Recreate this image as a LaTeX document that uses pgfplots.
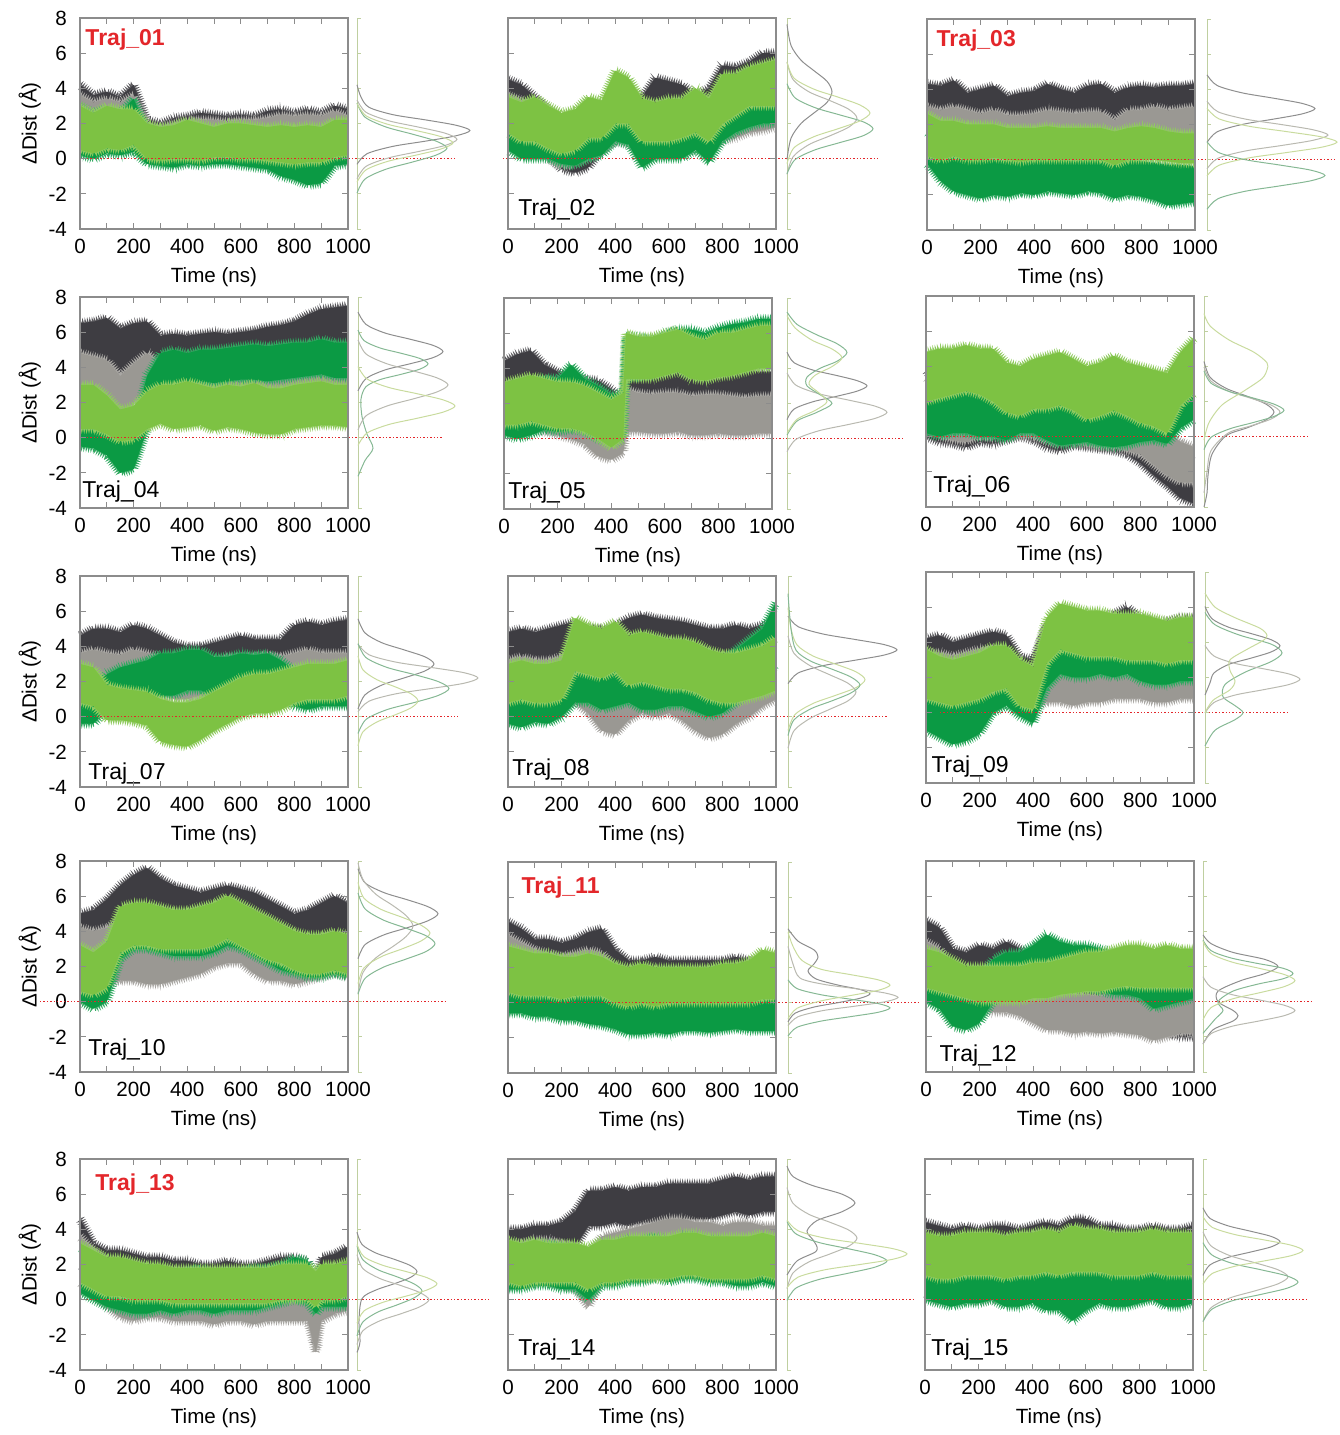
\documentclass[border=0pt]{standalone}
\usepackage{fontspec}
\setmainfont{Liberation Sans}
\usepackage{pgfplots}
\pgfplotsset{compat=1.18}
\usepackage{pgfplotstable}
\usepgfplotslibrary{fillbetween}
\usetikzlibrary{decorations.pathmorphing}
\definecolor{cK}{HTML}{3E3D42}
\definecolor{cG}{HTML}{9A9893}
\definecolor{cE}{HTML}{0B9A44}
\definecolor{cL}{HTML}{7DC243}
\definecolor{dK}{HTML}{8E8E8E}
\definecolor{dG}{HTML}{B9B9B0}
\definecolor{dE}{HTML}{86B894}
\definecolor{dL}{HTML}{C9DB9E}
\definecolor{axc}{HTML}{8C8C8C}
\definecolor{sdc}{HTML}{BFCFA0}
\definecolor{rd}{HTML}{E3262A}
\newcommand\fs{\fontsize{10.3}{12}\selectfont}
\newcommand\ft{\fontsize{11.5}{13}\selectfont}
\tikzset{noisy/.style={draw=#1!85!white, line width=0.45pt, decorate, decoration={zigzag, segment length=1.2pt, amplitude=1.5pt}}}
\newcommand\band[5]{%
 \addplot[noisy=#4,on layer=pre main,forget plot] table[x=t,y=#2]{#1};
 \addplot[noisy=#4,on layer=pre main,forget plot] table[x=t,y=#3]{#1};
 \addplot[name path=u#5,draw=none,forget plot] table[x=t,y=#2]{#1};
 \addplot[name path=d#5,draw=none,forget plot] table[x=t,y=#3]{#1};
 \addplot[fill=#4,draw=none,on layer=pre main,forget plot] fill between[of=u#5 and d#5];}
\newcommand\bands[1]{\band{#1}{Kh}{Kl}{cK}{k}\band{#1}{Gh}{Gl}{cG}{g}\band{#1}{Eh}{El}{cE}{e}\band{#1}{Lh}{Ll}{cL}{l}}
\newcommand\red[2]{\coordinate (ra) at (axis cs:#1,0); \coordinate (rb) at (axis cs:#2,0);}
\newcommand\redline{\draw[rd,densely dotted,line width=0.7pt] (ra) -- (rb);}
\tikzset{
 lab/.style={anchor=west, inner sep=0pt, font=\ft},
 labr/.style={anchor=west, inner sep=0pt, font=\ft\bfseries, text=rd}
}
\pgfplotsset{
 main/.style={scale only axis, width=134pt, height=105.5pt, xmin=0, xmax=1000, ymin=-4, ymax=8,
  axis on top, anchor=south west,
  xtick={0,200,400,600,800,1000}, xticklabels={0,200,400,600,800,1000},
  minor xtick={100,300,500,700,900},
  ytick={-4,-2,0,2,4,6,8}, yticklabels={},
  tick align=inside, major tick length=3pt, minor tick length=3pt,
  axis line style={axc, line width=0.6pt}, every tick/.style={axc, line width=0.5pt},
  ticklabel style={font=\fs, text=black},
  xticklabel style={yshift=-1.5pt}, yticklabel style={xshift=-3pt},
  xlabel={Time (ns)}, xlabel style={font=\fs, at={(axis description cs:0.5,-0.227)}, anchor=center}},
 col1/.style={yticklabels={-4,-2,0,2,4,6,8}, ylabel={ΔDist (Å)},
  ylabel style={font=\fs, at={(axis description cs:-0.187,0.5)}, anchor=center}},
 side/.style={scale only axis, width=65pt, height=105.5pt, xmin=0, xmax=1.3, ymin=-4, ymax=8,
  anchor=south west, clip=false, axis x line=none, axis y line*=left,
  y axis line style={-, sdc, line width=0.5pt}, xtick=\empty,
  ytick={-4,-2,0,2,4,6,8}, yticklabels={}, ytick style={sdc, line width=0.4pt},
  tick align=inside, major tick length=2pt,
  every axis plot/.append style={smooth, line width=0.5pt}}
}
\pgfplotstableread[row sep=\\]{
t Kh Kl Gh Gl Eh El Lh Ll\\
0 4.2 1.5 3.6 0.8 3.0 0.2 3.0 0.5\\
50 3.6 1.4 3.2 0.6 2.6 0.0 2.6 0.3\\
100 3.8 1.5 3.4 0.8 2.8 0.3 3.0 0.6\\
150 3.5 1.3 3.2 0.6 2.6 0.2 2.8 0.5\\
200 4.2 1.6 3.6 0.9 3.4 0.4 2.8 0.8\\
250 2.2 0.8 2.0 0.0 1.6 -0.3 2.0 0.0\\
300 2.0 0.6 1.8 -0.3 1.2 -0.4 1.8 -0.1\\
350 2.3 0.7 2.0 -0.2 1.4 -0.5 1.9 0.0\\
400 2.4 0.8 2.2 -0.2 1.6 -0.3 2.2 0.0\\
450 2.6 1.0 2.2 0.0 1.6 -0.4 2.0 -0.1\\
500 2.5 1.0 2.2 0.2 1.5 -0.3 1.8 0.1\\
550 2.4 1.1 2.1 0.3 1.5 -0.3 2.0 0.1\\
600 2.5 1.2 2.2 0.4 1.6 -0.4 2.0 0.0\\
650 2.4 1.2 2.2 0.3 1.5 -0.5 1.9 0.0\\
700 2.7 1.3 2.3 0.4 1.4 -0.6 1.8 -0.1\\
750 2.8 1.3 2.5 0.4 1.2 -1.0 1.9 -0.2\\
800 2.6 1.2 2.4 0.3 1.2 -1.2 1.8 -0.3\\
850 2.8 1.3 2.5 0.4 1.0 -1.5 1.9 -0.2\\
900 2.6 1.3 2.4 0.4 1.0 -1.4 1.8 -0.2\\
950 3.0 1.4 2.7 0.6 1.8 -0.4 2.2 0.1\\
1000 2.8 1.3 2.4 0.5 2.0 -0.3 2.2 0.2\\
}\TrA
\pgfplotstableread[row sep=\\]{
t Kh Kl Gh Gl Eh El Lh Ll\\
0 4.5 2.2 3.6 0.8 2.5 0.5 3.5 1.5\\
50 4.2 2.0 3.3 0.6 2.2 0.0 3.2 1.0\\
100 3.5 1.2 3.0 0.5 2.0 0.0 3.5 1.0\\
150 2.8 0.2 2.5 0.0 1.8 0.0 3.0 0.6\\
200 2.2 -0.6 2.0 -0.5 1.5 -0.3 2.6 0.3\\
250 2.0 -0.8 2.2 -0.3 1.6 -0.4 2.8 0.5\\
300 2.4 -0.5 2.5 0.0 2.0 0.0 3.5 1.2\\
350 3.0 0.5 3.0 0.5 2.2 0.2 3.3 1.2\\
400 3.4 1.0 3.5 1.0 3.2 1.0 5.0 2.0\\
450 4.0 1.5 3.2 0.8 3.0 0.8 4.6 2.0\\
500 3.5 1.2 3.0 0.5 2.0 -0.5 3.4 1.0\\
550 4.6 1.5 3.0 0.5 2.2 0.0 3.2 1.0\\
600 4.4 2.0 3.0 0.5 2.4 0.0 3.4 1.0\\
650 4.2 1.8 3.0 0.5 2.4 0.0 3.4 1.2\\
700 3.6 1.0 3.0 0.5 2.6 0.5 4.0 1.5\\
750 4.0 1.5 3.2 0.8 2.2 -0.2 3.4 1.0\\
800 5.3 2.5 3.5 1.0 3.2 1.0 4.8 2.0\\
850 5.2 2.5 3.8 1.2 3.5 1.5 4.8 2.5\\
900 5.5 3.0 4.0 1.5 3.8 1.8 5.2 3.0\\
950 6.0 3.0 4.0 1.6 4.0 2.0 5.4 3.0\\
1000 6.0 3.0 4.0 1.8 4.0 2.0 5.6 3.0\\
}\TrB
\pgfplotstableread[row sep=\\]{
t Kh Kl Gh Gl Eh El Lh Ll\\
0 4.3 2.0 3.0 0.8 1.6 -0.2 2.6 0.2\\
50 4.2 1.8 2.8 0.6 0.8 -1.2 2.2 0.0\\
100 4.5 2.0 3.0 0.7 0.2 -1.8 2.2 0.2\\
150 3.8 1.8 2.8 0.6 0.0 -2.0 2.0 0.0\\
200 4.0 1.9 2.6 0.5 0.1 -2.2 2.0 0.0\\
250 4.2 2.0 2.8 0.6 0.0 -2.0 2.0 0.1\\
300 3.6 1.8 2.5 0.4 -0.1 -2.1 1.8 0.0\\
350 3.8 1.8 2.5 0.4 0.0 -1.9 1.8 -0.1\\
400 3.9 2.0 2.6 0.5 0.0 -2.0 1.8 0.0\\
450 4.3 2.1 2.8 0.6 0.1 -1.8 1.9 0.0\\
500 4.0 2.1 2.7 0.5 0.0 -1.9 1.8 0.0\\
550 3.8 2.0 2.6 0.5 -0.1 -2.0 1.8 0.0\\
600 4.2 2.1 2.7 0.5 0.0 -1.8 1.8 0.0\\
650 4.3 2.1 2.7 0.6 0.0 -1.9 1.8 0.0\\
700 3.8 1.5 2.2 0.2 -0.2 -2.2 1.6 -0.3\\
750 4.1 2.0 2.8 0.6 0.0 -2.0 1.8 0.0\\
800 4.2 2.2 2.8 0.6 -0.1 -2.1 1.9 0.0\\
850 4.1 2.1 3.0 0.7 -0.2 -2.3 1.8 0.0\\
900 4.2 2.1 2.8 0.6 -0.3 -2.6 1.6 -0.1\\
950 4.2 2.2 2.9 0.7 -0.3 -2.5 1.5 -0.2\\
1000 4.3 2.2 3.0 0.7 -0.4 -2.4 1.5 -0.2\\
}\TrC
\pgfplotstableread[row sep=\\]{
t Kh Kl Gh Gl Eh El Lh Ll\\
0 6.5 3.8 4.8 2.5 1.6 -0.5 3.0 0.5\\
50 6.6 3.8 4.6 2.2 1.2 -0.6 3.0 0.5\\
100 6.8 4.0 4.4 1.8 1.0 -1.0 2.4 0.2\\
150 6.2 3.6 3.5 1.2 0.2 -2.0 1.6 -0.2\\
200 6.5 3.8 4.2 2.0 0.5 -1.8 1.8 -0.1\\
250 6.6 4.0 4.8 2.8 3.5 0.5 2.6 0.5\\
300 5.8 3.8 4.2 2.2 4.8 3.0 3.0 0.8\\
350 5.9 3.8 4.0 2.0 5.0 3.0 3.0 0.5\\
400 5.8 3.8 4.0 2.0 4.8 3.0 3.2 0.6\\
450 5.9 4.0 4.2 2.2 5.0 3.2 3.0 0.7\\
500 6.0 4.0 4.0 2.0 5.0 3.1 2.8 0.4\\
550 5.9 3.9 3.8 2.0 5.1 3.2 3.0 0.6\\
600 6.0 4.0 4.0 2.1 5.2 3.3 2.9 0.5\\
650 6.1 4.2 4.0 2.0 5.3 3.3 3.1 0.3\\
700 6.3 4.5 3.8 1.8 5.2 3.2 2.8 0.2\\
750 6.4 4.6 3.8 1.8 5.3 3.3 2.8 0.2\\
800 6.6 4.6 4.0 2.0 5.4 3.4 3.0 0.5\\
850 7.0 4.8 4.2 2.2 5.4 3.5 3.1 0.6\\
900 7.3 4.8 4.6 2.6 5.6 3.6 3.2 0.7\\
950 7.4 5.0 4.8 2.8 5.4 3.4 3.0 0.7\\
1000 7.5 5.0 5.0 3.0 5.4 3.4 3.0 0.6\\
}\TrD
\pgfplotstableread[row sep=\\]{
t Kh Kl Gh Gl Eh El Lh Ll\\
0 4.4 2.0 3.0 0.5 2.8 0.2 3.2 0.8\\
50 4.8 2.2 3.0 0.5 3.0 0.0 3.4 0.8\\
100 5.0 2.4 3.2 0.6 3.2 0.2 3.6 1.0\\
150 4.2 1.8 2.8 0.4 3.5 0.5 3.4 0.8\\
200 3.8 1.4 2.5 0.2 3.4 0.4 3.2 0.6\\
250 3.5 1.0 2.4 0.0 4.2 0.5 3.2 0.6\\
300 3.4 0.8 2.2 -0.3 3.4 0.4 3.0 0.4\\
350 3.3 0.5 1.5 -1.0 3.0 0.0 2.6 0.0\\
400 2.8 0.0 1.0 -1.2 2.5 -0.3 2.2 -0.5\\
445 2.2 -0.2 1.2 -0.8 2.6 0.0 2.6 0.0\\
455 3.8 1.8 2.8 0.4 5.8 3.5 6.0 3.4\\
500 3.9 1.8 2.6 0.4 5.8 3.5 5.8 3.4\\
550 3.8 1.8 2.5 0.3 5.6 3.6 5.8 3.4\\
600 4.0 1.9 2.6 0.3 6.0 3.8 6.0 3.6\\
650 4.0 2.0 2.6 0.4 6.2 4.0 6.2 3.8\\
700 3.8 1.8 2.4 0.2 6.2 3.6 5.8 3.4\\
750 3.9 1.8 2.5 0.2 6.0 3.6 5.6 3.3\\
800 4.0 1.9 2.5 0.3 6.3 3.8 6.0 3.5\\
850 4.0 2.0 2.4 0.2 6.5 4.0 6.0 3.6\\
900 3.9 1.8 2.3 0.2 6.6 4.0 6.2 3.8\\
950 3.8 1.8 2.4 0.3 6.8 4.2 6.4 4.0\\
1000 3.8 1.8 2.4 0.3 6.8 4.2 6.4 4.0\\
}\TrE
\pgfplotstableread[row sep=\\]{
t Kh Kl Gh Gl Eh El Lh Ll\\
0 3.8 0.0 3.4 0.2 2.8 0.2 4.8 2.0\\
50 2.6 -0.3 2.6 0.0 2.6 0.0 5.0 2.2\\
100 2.4 -0.4 2.4 -0.2 2.8 0.2 5.0 2.4\\
150 2.2 -0.6 2.3 -0.3 2.8 0.2 5.2 2.6\\
200 2.5 -0.3 2.5 0.0 2.6 0.0 5.0 2.4\\
250 2.4 -0.4 2.5 -0.1 2.5 0.0 5.0 2.0\\
300 2.3 -0.2 2.3 0.0 2.4 -0.2 4.2 1.4\\
350 2.6 0.0 2.6 0.0 2.8 0.2 4.0 1.2\\
400 2.6 -0.2 2.5 0.0 2.8 0.2 4.4 1.6\\
450 2.2 -0.6 2.2 -0.3 2.6 -0.2 4.6 1.6\\
500 1.8 -0.8 2.0 -0.5 2.4 -0.5 4.8 1.8\\
550 2.0 -0.5 2.0 -0.4 2.4 -0.4 4.4 1.5\\
600 2.0 -0.6 2.0 -0.5 2.2 -0.3 4.0 1.0\\
650 1.8 -0.7 1.8 -0.6 2.0 -0.5 4.2 1.2\\
700 1.6 -0.8 1.7 -0.6 1.9 -0.6 4.6 1.5\\
750 1.5 -1.0 1.6 -0.8 1.8 -0.5 4.2 1.2\\
800 1.2 -1.5 1.4 -1.0 2.0 -0.3 4.0 0.8\\
850 0.4 -2.2 1.0 -1.6 1.8 -0.2 3.8 0.6\\
900 -0.5 -2.8 0.2 -2.2 1.5 -0.4 3.6 0.2\\
950 -1.0 -3.5 -0.3 -2.6 2.6 0.5 4.8 1.8\\
1000 -1.5 -3.8 -0.6 -2.6 3.0 1.0 5.6 2.5\\
}\TrF
\pgfplotstableread[row sep=\\]{
t Kh Kl Gh Gl Eh El Lh Ll\\
0 4.6 2.8 3.6 1.6 1.8 -0.4 3.0 0.8\\
50 5.0 3.0 3.8 1.8 1.6 -0.4 2.8 0.6\\
100 5.0 2.8 3.6 1.5 2.4 0.4 1.8 -0.2\\
150 4.8 2.8 3.5 1.4 2.8 0.6 1.6 -0.2\\
200 5.2 3.2 3.8 1.8 3.0 0.8 1.5 -0.3\\
250 5.0 3.0 3.6 1.6 3.2 0.9 1.4 -0.5\\
300 4.6 2.6 3.4 1.3 3.6 1.2 1.0 -1.4\\
350 4.2 2.4 3.2 1.0 3.6 1.2 0.8 -1.6\\
400 4.0 2.2 3.0 1.0 3.8 1.5 0.8 -1.7\\
450 4.0 2.2 3.0 1.2 3.8 1.5 1.0 -1.3\\
500 4.2 2.4 3.2 1.2 3.4 1.2 1.4 -0.8\\
550 4.4 2.6 3.4 1.4 3.4 1.2 1.8 -0.4\\
600 4.6 2.8 3.4 1.4 3.6 1.4 2.2 0.0\\
650 4.4 2.8 3.4 1.5 3.5 1.2 2.4 0.2\\
700 4.4 2.8 3.5 1.5 3.6 1.4 2.4 0.2\\
750 4.4 2.8 3.4 1.4 3.2 1.0 2.6 0.4\\
800 5.2 3.4 3.6 1.8 2.6 0.6 2.8 0.8\\
850 5.4 3.6 3.8 2.0 2.4 0.4 3.0 1.0\\
900 5.2 3.5 3.6 1.9 2.6 0.6 3.0 1.0\\
950 5.4 3.6 3.6 1.8 2.8 0.6 3.0 1.0\\
1000 5.5 3.6 3.6 1.8 2.8 0.6 3.2 1.2\\
}\TrG
\pgfplotstableread[row sep=\\]{
t Kh Kl Gh Gl Eh El Lh Ll\\
0 4.8 2.8 3.2 1.0 2.2 -0.4 3.0 0.8\\
50 5.0 3.0 3.4 1.2 2.0 -0.6 3.2 1.0\\
100 4.8 2.8 3.2 1.0 2.2 -0.3 3.0 0.8\\
150 5.0 3.0 3.2 1.0 2.0 -0.4 3.0 0.8\\
200 5.2 3.2 3.4 1.2 2.4 0.0 3.2 1.0\\
250 5.4 3.2 4.0 0.8 3.0 0.8 5.6 2.6\\
300 5.0 3.0 3.6 0.2 3.2 0.8 5.2 2.4\\
350 5.0 3.0 3.2 -0.8 3.0 0.4 5.0 2.2\\
400 5.2 3.0 3.0 -1.0 3.4 0.6 5.4 2.6\\
450 5.6 3.4 3.2 -0.2 3.6 0.8 4.6 1.8\\
500 5.8 3.6 3.4 0.2 3.0 0.4 4.8 2.0\\
550 5.6 3.4 3.2 0.0 3.0 0.4 4.6 1.8\\
600 5.5 3.3 3.2 0.2 3.2 0.6 4.4 1.6\\
650 5.4 3.2 3.0 -0.2 3.2 0.6 4.4 1.6\\
700 5.2 3.0 2.8 -0.8 2.8 0.3 4.2 1.4\\
750 5.0 2.8 2.6 -1.2 3.0 0.0 3.8 1.0\\
800 5.0 2.8 2.8 -1.0 3.2 0.2 3.6 0.8\\
850 5.2 3.0 3.0 -0.4 3.8 0.8 3.6 0.8\\
900 5.0 2.8 3.2 0.0 4.4 1.4 3.8 1.0\\
950 5.2 3.0 3.4 0.6 5.0 2.0 4.0 1.2\\
1000 5.4 3.2 3.6 1.0 6.5 3.0 4.5 1.5\\
}\TrH
\pgfplotstableread[row sep=\\]{
t Kh Kl Gh Gl Eh El Lh Ll\\
0 4.2 2.2 3.4 1.4 1.6 -1.0 3.6 0.8\\
50 4.4 2.4 3.4 1.4 1.2 -1.4 3.2 0.6\\
100 4.0 2.0 3.2 1.2 0.8 -1.8 3.0 0.4\\
150 4.2 2.2 3.4 1.4 0.6 -1.6 3.2 0.6\\
200 4.4 2.4 3.6 1.6 1.2 -1.2 3.4 0.8\\
250 4.6 2.6 3.6 1.6 2.0 0.0 3.8 1.2\\
300 4.4 2.4 3.4 1.4 2.4 0.4 3.8 1.4\\
350 3.2 1.2 2.6 0.6 1.8 -0.2 3.0 0.4\\
400 3.0 1.0 2.2 0.2 1.2 -0.6 2.6 0.2\\
450 5.0 3.0 2.8 0.6 3.6 1.4 5.4 2.8\\
500 5.2 3.2 3.0 0.6 4.4 2.2 6.2 3.6\\
550 5.0 3.0 2.8 0.4 4.2 2.0 6.0 3.4\\
600 5.2 3.2 3.0 0.6 4.2 2.0 5.8 3.2\\
650 5.4 3.4 3.0 0.6 4.4 2.2 5.8 3.2\\
700 5.6 3.6 3.2 0.8 4.2 2.0 5.6 3.2\\
750 6.0 3.8 3.2 0.8 4.4 2.2 5.6 3.0\\
800 5.4 3.4 3.2 0.8 4.0 1.8 5.6 3.0\\
850 5.2 3.2 3.0 0.6 3.8 1.6 5.4 3.0\\
900 5.2 3.2 3.0 0.6 3.8 1.6 5.2 2.8\\
950 5.4 3.4 3.2 0.8 4.0 1.8 5.4 3.0\\
1000 5.4 3.4 3.2 0.8 4.0 1.8 5.4 3.0\\
}\TrI
\pgfplotstableread[row sep=\\]{
t Kh Kl Gh Gl Eh El Lh Ll\\
0 5.0 2.2 4.2 1.6 2.6 0.0 3.2 0.6\\
50 5.2 2.2 4.0 1.2 2.4 -0.4 2.8 0.4\\
100 5.8 2.8 4.2 1.0 2.8 0.0 3.4 0.8\\
150 6.6 3.8 4.6 1.2 4.6 2.4 5.4 2.8\\
200 7.2 4.6 4.6 1.2 5.2 3.0 5.6 3.2\\
250 7.6 4.8 4.4 1.0 5.2 3.0 5.6 3.2\\
300 7.0 4.4 4.2 1.0 5.0 2.8 5.4 3.0\\
350 6.6 4.2 4.2 1.2 4.8 2.6 5.2 3.0\\
400 6.4 4.0 4.4 1.4 4.8 2.6 5.2 3.0\\
450 6.2 3.8 4.6 1.6 5.0 2.6 5.4 3.0\\
500 6.4 4.0 4.8 2.0 5.2 2.8 5.6 3.2\\
550 6.6 4.2 5.0 2.2 5.6 3.2 6.0 3.6\\
600 6.4 4.0 4.8 2.2 5.2 3.0 5.6 3.2\\
650 6.2 3.6 4.4 1.6 4.8 2.6 5.2 2.8\\
700 5.8 3.4 4.0 1.2 4.4 2.2 4.8 2.4\\
750 5.4 3.2 3.6 1.2 4.0 1.8 4.4 2.2\\
800 5.0 2.8 3.4 1.0 3.6 1.6 4.0 1.8\\
850 5.2 3.0 3.4 1.2 3.4 1.4 3.8 1.6\\
900 5.6 3.4 3.6 1.4 3.4 1.4 3.8 1.6\\
950 6.0 3.6 3.8 1.6 3.6 1.6 4.0 1.8\\
1000 5.6 3.2 3.6 1.4 3.4 1.4 3.8 1.6\\
}\TrJ
\pgfplotstableread[row sep=\\]{
t Kh Kl Gh Gl Eh El Lh Ll\\
0 4.6 1.6 3.8 0.6 1.8 -0.6 3.2 0.6\\
50 4.2 1.4 3.4 0.2 1.6 -0.6 3.0 0.4\\
100 3.6 1.0 3.0 -0.2 1.4 -0.8 2.8 0.4\\
150 3.6 1.0 2.8 -0.4 1.4 -0.8 2.8 0.4\\
200 3.4 0.8 2.6 -0.8 1.2 -1.0 2.6 0.2\\
250 3.6 1.0 2.8 -0.8 1.2 -1.0 2.6 0.4\\
300 4.0 1.2 3.0 -0.6 1.0 -1.2 2.8 0.4\\
350 4.2 1.4 2.8 -0.4 0.9 -1.3 2.6 0.4\\
400 3.0 0.4 2.0 -0.6 0.6 -1.5 2.2 0.0\\
450 2.4 0.0 1.6 -0.8 0.4 -1.8 2.0 -0.2\\
500 2.4 0.0 1.5 -0.8 0.4 -1.8 2.2 0.0\\
550 2.6 0.2 1.6 -0.6 0.5 -1.7 2.0 -0.2\\
600 2.4 0.0 1.5 -0.8 0.4 -1.8 2.0 0.0\\
650 2.4 0.0 1.6 -0.6 0.3 -1.6 2.0 0.0\\
700 2.4 0.0 1.6 -0.6 0.4 -1.6 2.0 0.0\\
750 2.4 0.0 1.5 -0.8 0.3 -1.7 2.0 0.0\\
800 2.4 0.0 1.6 -0.6 0.4 -1.6 2.2 0.0\\
850 2.6 0.2 1.8 -0.4 0.4 -1.5 2.2 0.0\\
900 2.4 0.0 2.0 -0.3 0.5 -1.6 2.4 0.0\\
950 2.4 0.0 1.8 -0.4 0.5 -1.6 3.0 0.2\\
1000 2.6 0.2 1.8 -0.4 0.4 -1.6 2.8 0.2\\
}\TrK
\pgfplotstableread[row sep=\\]{
t Kh Kl Gh Gl Eh El Lh Ll\\
0 4.6 2.0 3.4 1.0 2.6 0.0 3.0 0.8\\
50 4.2 1.6 3.0 0.6 2.2 -0.4 2.8 0.6\\
100 3.0 0.6 1.8 -0.6 1.2 -1.4 2.4 0.4\\
150 2.8 0.4 1.6 -0.6 1.0 -1.6 2.0 0.2\\
200 3.2 0.6 1.8 -0.4 1.4 -1.2 2.0 0.0\\
250 3.0 0.6 1.6 -0.6 2.4 0.0 2.0 0.0\\
300 3.4 0.8 1.6 -0.6 2.8 0.4 2.0 0.0\\
350 3.0 0.6 1.4 -0.8 2.8 0.6 2.0 0.0\\
400 2.6 0.0 1.0 -1.2 3.2 0.8 2.2 0.2\\
450 2.4 -0.4 0.6 -1.6 3.8 1.2 2.2 0.2\\
500 2.2 -0.6 0.5 -1.6 3.4 1.0 2.4 0.4\\
550 2.0 -0.8 0.4 -1.8 3.2 0.8 2.6 0.5\\
600 1.8 -1.0 0.4 -1.7 3.2 0.8 2.8 0.6\\
650 1.6 -1.2 0.3 -1.8 3.0 0.6 2.8 0.6\\
700 1.4 -1.4 0.4 -1.7 2.8 0.4 3.0 0.8\\
750 1.2 -1.5 0.2 -1.8 2.8 0.4 3.2 0.9\\
800 1.0 -1.6 0.2 -1.9 2.6 0.2 3.2 0.8\\
850 0.8 -1.8 0.0 -2.2 2.0 -0.4 3.0 0.8\\
900 0.8 -1.8 0.0 -2.0 2.2 -0.2 3.2 0.8\\
950 0.6 -2.0 0.0 -1.8 2.0 0.0 3.0 0.8\\
1000 0.6 -2.0 0.0 -1.8 2.2 0.2 3.0 0.8\\
}\TrL
\pgfplotstableread[row sep=\\]{
t Kh Kl Gh Gl Eh El Lh Ll\\
0 4.6 2.0 3.6 1.0 3.0 0.4 3.2 1.0\\
50 3.2 1.4 2.8 0.2 2.4 0.0 2.8 0.6\\
100 2.8 1.2 2.2 -0.4 2.0 -0.4 2.4 0.2\\
150 2.8 1.2 1.6 -1.0 2.0 -0.6 2.4 0.2\\
200 2.6 1.0 1.4 -1.2 1.8 -0.8 2.2 0.0\\
250 2.4 1.0 1.4 -1.0 1.6 -0.8 2.0 0.0\\
300 2.4 1.0 1.2 -1.0 1.6 -0.6 2.0 0.0\\
350 2.2 0.8 1.2 -1.2 1.4 -0.8 1.8 -0.2\\
400 2.2 0.8 1.2 -1.2 1.6 -0.6 1.8 -0.2\\
450 2.0 0.6 1.0 -1.2 1.8 -0.6 1.8 -0.2\\
500 2.0 0.6 1.0 -1.4 1.4 -0.8 1.8 -0.2\\
550 2.2 0.8 1.2 -1.2 1.6 -0.6 1.8 -0.2\\
600 2.0 0.6 1.0 -1.2 1.6 -0.6 1.8 -0.2\\
650 2.0 0.6 1.0 -1.4 1.8 -0.6 1.8 -0.2\\
700 2.2 0.8 1.2 -1.2 1.8 -0.4 1.8 -0.2\\
750 2.4 1.0 1.2 -1.2 2.0 -0.2 2.0 0.0\\
800 2.4 1.0 1.2 -1.2 2.4 0.0 2.0 0.0\\
850 2.2 0.6 1.0 -1.2 2.2 -0.2 2.0 0.0\\
880 1.0 -2.6 -0.8 -3.0 1.2 -0.8 1.6 -0.4\\
900 2.4 0.8 1.0 -1.2 1.8 -0.4 2.0 0.0\\
950 2.6 1.0 1.2 -0.8 1.6 -0.4 2.0 0.0\\
1000 3.0 1.4 1.6 -0.6 1.8 -0.4 2.2 0.2\\
}\TrM
\pgfplotstableread[row sep=\\]{
t Kh Kl Gh Gl Eh El Lh Ll\\
0 4.0 2.0 3.2 0.8 3.0 0.6 3.4 1.0\\
50 4.0 2.0 3.2 0.8 3.0 0.6 3.2 0.8\\
100 4.2 2.2 3.4 1.0 3.2 0.8 3.4 1.0\\
150 4.2 2.2 3.4 1.0 3.2 0.8 3.2 1.0\\
200 4.4 2.4 3.2 0.8 3.0 0.6 3.2 1.0\\
250 5.0 3.0 3.0 0.6 3.0 0.6 3.2 1.0\\
300 6.2 4.2 2.6 -0.4 2.6 0.0 3.0 0.6\\
350 6.2 4.2 3.6 1.2 3.2 0.8 3.4 1.0\\
400 6.4 4.4 3.8 1.4 3.2 0.8 3.4 1.0\\
450 6.2 4.2 4.0 1.6 3.4 1.0 3.6 1.2\\
500 6.4 4.4 4.2 1.8 3.4 1.0 3.6 1.2\\
550 6.4 4.4 4.4 2.0 3.6 1.2 3.6 1.2\\
600 6.6 4.6 4.6 2.2 3.4 1.0 3.6 1.2\\
650 6.6 4.6 4.6 2.2 3.6 1.2 3.8 1.4\\
700 6.6 4.6 4.4 2.0 3.6 1.2 3.8 1.4\\
750 6.6 4.6 4.4 2.0 3.4 1.0 3.6 1.2\\
800 6.8 4.8 4.2 1.8 3.4 1.0 3.6 1.2\\
850 7.0 5.0 4.4 2.0 3.2 0.8 3.6 1.2\\
900 6.8 4.8 4.4 2.0 3.2 0.8 3.6 1.2\\
950 7.0 5.0 4.2 1.8 3.4 1.0 3.8 1.4\\
1000 7.0 5.0 4.2 1.8 3.2 0.8 3.6 1.2\\
}\TrN
\pgfplotstableread[row sep=\\]{
t Kh Kl Gh Gl Eh El Lh Ll\\
0 4.4 2.2 3.0 0.4 2.6 0.0 3.8 1.4\\
50 4.2 2.0 2.8 -0.2 2.4 -0.2 3.6 1.2\\
100 4.0 1.8 2.6 0.0 2.2 -0.4 3.6 1.2\\
150 4.2 2.0 2.8 0.2 2.4 -0.2 3.8 1.4\\
200 4.0 1.8 2.6 -0.2 2.4 -0.2 3.8 1.4\\
250 4.2 2.0 2.6 0.0 2.6 0.0 3.8 1.4\\
300 4.2 2.0 2.6 0.0 2.2 -0.4 3.6 1.2\\
350 4.0 1.8 2.6 0.0 2.2 -0.4 3.8 1.4\\
400 4.2 2.0 2.8 0.2 2.4 -0.2 3.8 1.4\\
450 4.4 2.2 3.0 0.2 2.2 -0.6 4.0 1.6\\
500 4.2 2.0 2.6 -0.2 2.4 -0.6 3.8 1.4\\
550 4.6 2.2 2.8 0.0 2.0 -1.2 4.2 1.6\\
600 4.6 2.4 3.0 0.4 2.2 -0.6 4.0 1.6\\
650 4.2 2.0 2.8 0.2 2.6 -0.2 4.0 1.6\\
700 4.2 2.0 2.6 0.0 2.4 -0.4 3.8 1.4\\
750 4.0 1.8 2.8 0.2 2.2 -0.4 3.8 1.4\\
800 4.0 1.8 2.6 0.0 2.4 -0.2 3.8 1.4\\
850 4.2 2.0 2.6 0.0 2.6 0.0 4.0 1.6\\
900 4.0 1.8 2.6 0.0 2.2 -0.4 3.8 1.4\\
950 4.0 1.8 2.6 0.0 2.2 -0.4 3.8 1.4\\
1000 4.2 2.0 2.8 0.2 2.4 -0.2 3.8 1.4\\
}\TrO
\begin{document}
\begin{tikzpicture}
% ---------- Row 1
\begin{axis}[main,col1,at={(40pt,603pt)}]
\bands{\TrA}\red{0}{1400}
\node[labr] at (rel axis cs:0.019,0.896) {Traj\_01};
\end{axis}\redline
\begin{axis}[side,at={(178.5pt,603pt)}]
\addplot[dK] coordinates {(0,-0.32)(.10,0.28)(.36,0.7)(.69,1.0)(.99,1.3)(1.13,1.6)(.99,1.9)(.69,2.2)(.36,2.5)(.12,2.92)(.04,3.5)(0,4.2)};
\addplot[dG] coordinates {(0,-1.14)(.09,-0.44)(.32,0.05)(.61,0.4)(.88,0.75)(1,1.1)(.88,1.45)(.61,1.8)(.32,2.15)(.09,2.64)(0,3.34)};
\addplot[dE] coordinates {(0,-1.96)(.08,-1.16)(.29,-0.6)(.55,-0.2)(.79,0.2)(.9,0.6)(.79,1.0)(.55,1.4)(.29,1.8)(.08,2.36)(0,3.16)};
\addplot[dL] coordinates {(0,-1.34)(.09,-0.64)(.31,-0.15)(.59,0.2)(.84,0.55)(.96,0.9)(.84,1.25)(.59,1.6)(.31,1.95)(.09,2.44)(0,3.14)};
\end{axis}
\begin{axis}[main,at={(254pt,603pt)}]
\bands{\TrB}\red{-19}{1388}
\node[lab] at (rel axis cs:0.037,0.09) {Traj\_02};
\end{axis}\redline
\begin{axis}[side,at={(393.5pt,603pt)}]
\addplot[dK] coordinates {(0,-0.04)(.04,1.16)(.14,2.0)(.27,2.6)(.40,3.2)(.45,3.8)(.40,4.4)(.27,5.0)(.14,5.6)(.04,6.44)(0,7.64)};
\addplot[dG] coordinates {(0,-0.9)(.06,0.1)(.22,0.8)(.43,1.3)(.62,1.8)(.7,2.3)(.62,2.8)(.43,3.3)(.22,3.8)(.06,4.5)(0,5.5)};
\addplot[dE] coordinates {(0,-0.86)(.08,-0.06)(.28,0.5)(.52,0.9)(.76,1.3)(.86,1.7)(.76,2.1)(.52,2.5)(.28,2.9)(.08,3.46)(0,4.26)};
\addplot[dL] coordinates {(0,-0.28)(.07,0.62)(.27,1.25)(.51,1.7)(.73,2.15)(.83,2.6)(.73,3.05)(.51,3.5)(.27,3.95)(.07,4.58)(0,5.48)};
\end{axis}
\begin{axis}[main,at={(463.5pt,602.5pt)}]
\bands{\TrC}\red{-4}{1526}
\node[labr] at (rel axis cs:0.034,0.9) {Traj\_03};
\end{axis}\redline
\begin{axis}[side,at={(603.5pt,602.5pt)}]
\addplot[dK] coordinates {(0,0.98)(.10,1.58)(.35,2.0)(.66,2.3)(.95,2.6)(1.08,2.9)(.95,3.2)(.66,3.5)(.35,3.8)(.10,4.22)(0,4.82)};
\addplot[dG] coordinates {(0,-0.52)(.11,0.08)(.39,0.5)(.74,0.8)(1.06,1.1)(1.21,1.4)(1.06,1.7)(.74,2.0)(.39,2.3)(.11,2.72)(0,3.32)};
\addplot[dL] coordinates {(0,-0.92)(.12,-0.32)(.42,0.1)(.79,0.4)(1.14,0.7)(1.3,1.0)(1.14,1.3)(.79,1.6)(.42,1.9)(.12,2.32)(0,2.92)};
\addplot[dE] coordinates {(0,-2.82)(.11,-2.22)(.38,-1.8)(.72,-1.5)(1.04,-1.2)(1.18,-0.9)(1.04,-0.6)(.72,-0.3)(.38,0.0)(.11,0.42)(0,1.02)};
\end{axis}
% ---------- Row 2
\begin{axis}[main,col1,at={(40pt,463.5pt)}]
\bands{\TrD}\red{0}{1354}
\node[lab] at (rel axis cs:0.007,0.076) {Traj\_04};
\end{axis}\redline
\begin{axis}[side,at={(179pt,463.5pt)}]
\addplot[dK] coordinates {(0,2.66)(.08,3.36)(.27,3.85)(.52,4.2)(.75,4.55)(.85,4.9)(.75,5.25)(.52,5.6)(.27,5.95)(.08,6.44)(0,7.14)};
\addplot[dE] coordinates {(0,-2.2)(.07,-1.3)(.15,-0.6)(.09,0.2)(.04,1.2)(.03,2.2)(.08,2.9)(.22,3.3)(.43,3.6)(.62,3.9)(.7,4.2)(.62,4.5)(.43,4.8)(.22,5.1)(.06,5.52)(0,6.12)};
\addplot[dG] coordinates {(0,0.44)(.08,1.24)(.29,1.8)(.55,2.2)(.79,2.6)(.9,3.0)(.79,3.4)(.55,3.8)(.29,4.2)(.08,4.76)(0,5.56)};
\addplot[dL] coordinates {(0,-0.44)(.09,0.26)(.31,0.75)(.59,1.1)(.85,1.45)(.97,1.8)(.85,2.15)(.59,2.5)(.31,2.85)(.09,3.34)(0,4.04)};
\end{axis}
\begin{axis}[main,at={(252pt,463pt)}]
\bands{\TrE}\red{0}{1496}
\node[lab] at (rel axis cs:0.015,0.08) {Traj\_05};
\end{axis}\redline
\begin{axis}[side,at={(393.5pt,463pt)}]
\addplot[dK] coordinates {(0,1.08)(.07,1.68)(.26,2.1)(.49,2.4)(.70,2.7)(.8,3.0)(.70,3.3)(.49,3.6)(.26,3.9)(.07,4.32)(0,4.92)};
\addplot[dG] coordinates {(0,-0.74)(.09,-0.04)(.32,0.45)(.61,0.8)(.88,1.15)(1,1.5)(.88,1.85)(.61,2.2)(.32,2.55)(.09,3.04)(0,3.74)};
\addplot[dE] coordinates {(0,0.2)(.1,1.0)(.3,1.5)(.45,2.0)(.33,2.5)(.2,3.0)(.2,3.5)(.33,4.0)(.5,4.4)(.6,4.9)(.5,5.4)(.3,5.9)(.1,6.5)(0,7.2)};
\addplot[dL] coordinates {(0,0.3)(.1,1.1)(.28,1.6)(.4,2.1)(.32,2.6)(.22,3.1)(.28,3.6)(.45,4.1)(.55,4.6)(.45,5.1)(.25,5.6)(.08,6.3)(0,7.0)};
\end{axis}
\begin{axis}[main,at={(463pt,464pt)}]
\bands{\TrF}\red{0}{1422}
\node[lab] at (rel axis cs:0.026,0.095) {Traj\_06};
\end{axis}\redline
\begin{axis}[side,at={(602pt,464pt)}]
\addplot[dK] coordinates {(0,-4)(.03,-3.2)(.04,-2.2)(.08,-1.0)(.22,0.05)(.43,0.5)(.62,0.95)(.7,1.4)(.62,1.85)(.43,2.3)(.22,2.75)(.06,3.38)(0,4.28)};
\addplot[dG] coordinates {(0,-3.2)(.03,-2.0)(.07,-0.8)(.24,0.2)(.46,0.6)(.67,1.0)(.76,1.4)(.67,1.8)(.46,2.2)(.24,2.6)(.07,3.16)(0,3.96)};
\addplot[dE] coordinates {(0,-0.74)(.07,-0.04)(.26,0.45)(.49,0.8)(.70,1.15)(.8,1.5)(.70,1.85)(.49,2.2)(.26,2.55)(.07,3.04)(0,3.74)};
\addplot[dL] coordinates {(0,-0.2)(.05,0.8)(.18,1.8)(.4,2.6)(.58,3.3)(.63,3.8)(.63,4.2)(.5,4.8)(.25,5.5)(.06,6.3)(0,7)};
\end{axis}
% ---------- Row 3
\begin{axis}[main,col1,at={(40pt,324pt)}]
\bands{\TrG}\red{0}{1410}
\node[lab] at (rel axis cs:0.03,0.066) {Traj\_07};
\end{axis}\redline
\begin{axis}[side,at={(179pt,324pt)}]
\addplot[dK] coordinates {(0,0.44)(.07,1.24)(.24,1.8)(.46,2.2)(.67,2.6)(.76,3.0)(.67,3.4)(.46,3.8)(.24,4.2)(.07,4.76)(0,5.56)};
\addplot[dG] coordinates {(0,0.28)(.11,0.88)(.38,1.3)(.73,1.6)(1.06,1.9)(1.2,2.2)(1.06,2.5)(.73,2.8)(.38,3.1)(.11,3.52)(0,4.12)};
\addplot[dE] coordinates {(0,-0.96)(.08,-0.16)(.29,0.4)(.56,0.8)(.80,1.2)(.91,1.6)(.80,2.0)(.56,2.4)(.29,2.8)(.08,3.36)(0,4.16)};
\addplot[dL] coordinates {(0,-1.66)(.05,-0.86)(.19,-0.3)(.37,0.1)(.53,0.5)(.6,0.9)(.53,1.3)(.37,1.7)(.19,2.1)(.05,2.66)(0,3.46)};
\end{axis}
\begin{axis}[main,at={(254pt,324pt)}]
\bands{\TrH}\red{0}{1418}
\node[lab] at (rel axis cs:0.015,0.085) {Traj\_08};
\end{axis}\redline
\begin{axis}[side,at={(394pt,324pt)}]
\addplot[dK] coordinates {(0,1.88)(.10,2.48)(.35,2.9)(.66,3.2)(.96,3.5)(1.09,3.8)(.96,4.1)(.66,4.4)(.35,4.7)(.10,5.12)(0,5.72)};
\addplot[dL] coordinates {(0,-0.78)(.07,0.12)(.25,0.75)(.47,1.2)(.68,1.65)(.77,2.1)(.68,2.55)(.47,3.0)(.25,3.45)(.09,4.08)(.03,5.0)(0,6.2)};
\addplot[dG] coordinates {(0,-1.8)(.06,-0.8)(.22,-0.1)(.41,0.4)(.60,0.9)(.68,1.4)(.60,1.9)(.41,2.4)(.22,2.9)(.06,3.6)(0,4.6)};
\addplot[dE] coordinates {(0,-1.08)(.06,-0.18)(.23,0.45)(.44,0.9)(.63,1.35)(.72,1.8)(.63,2.25)(.44,2.7)(.23,3.15)(.08,3.78)(.03,5.0)(0,7.0)};
\end{axis}
\begin{axis}[main,at={(463pt,326pt)}]
\bands{\TrI}\red{52}{1358}
\node[lab] at (rel axis cs:0.019,0.076) {Traj\_09};
\end{axis}\redline
\begin{axis}[side,at={(602.5pt,326pt)}]
\addplot[dK] coordinates {(0,1.0)(.05,1.7)(.09,2.26)(.24,2.75)(.46,3.1)(.66,3.45)(.75,3.8)(.66,4.15)(.46,4.5)(.24,4.85)(.07,5.34)(0,6.04)};
\addplot[dE] coordinates {(0,-1.9)(.1,-1.0)(.3,-0.4)(.38,0.0)(.3,0.4)(.18,0.9)(.2,1.6)(.4,2.3)(.66,2.9)(.77,3.4)(.66,3.9)(.35,4.4)(.1,5.0)(0,5.7)};
\addplot[dG] coordinates {(0,-0.02)(.09,0.58)(.30,1.0)(.58,1.3)(.84,1.6)(.95,1.9)(.84,2.2)(.58,2.5)(.30,2.8)(.09,3.22)(0,3.82)};
\addplot[dL] coordinates {(0,0.0)(.08,0.7)(.25,1.3)(.3,1.8)(.25,2.4)(.25,3.0)(.42,3.6)(.58,4.1)(.62,4.4)(.55,4.8)(.3,5.4)(.1,6.0)(0,6.8)};
\end{axis}
% ---------- Row 4
\begin{axis}[main,col1,at={(40pt,181.5pt)}]
\bands{\TrJ}\red{-149}{1373}
\node[lab] at (rel axis cs:0.03,0.104) {Traj\_10};
\end{axis}\redline
\begin{axis}[side,at={(179pt,181.5pt)}]
\addplot[dK] coordinates {(0,2.44)(.07,3.24)(.26,3.8)(.49,4.2)(.70,4.6)(.8,5.0)(.70,5.4)(.49,5.8)(.26,6.2)(.07,6.76)(0,7.56)};
\addplot[dG] coordinates {(0,0.46)(.05,1.66)(.18,2.5)(.34,3.1)(.48,3.7)(.55,4.3)(.48,4.9)(.34,5.5)(.18,6.1)(.05,6.94)(0,7.9)};
\addplot[dL] coordinates {(0,1.02)(.06,1.92)(.23,2.55)(.44,3.0)(.63,3.45)(.72,3.9)(.63,4.35)(.44,4.8)(.23,5.25)(.06,5.88)(0,6.78)};
\addplot[dE] coordinates {(0,0.42)(.07,1.32)(.25,1.95)(.47,2.4)(.68,2.85)(.77,3.3)(.68,3.75)(.47,4.2)(.25,4.65)(.07,5.28)(0,6.18)};
\end{axis}
\begin{axis}[main,at={(254pt,181pt)}]
\bands{\TrK}\red{19}{1530}
\node[labr] at (rel axis cs:0.049,0.88) {Traj\_11};
\end{axis}\redline
\begin{axis}[side,at={(394pt,181pt)}]
\addplot[dK] coordinates {(0,-1.1)(.07,-0.6)(.26,-0.25)(.5,0.0)(.72,0.25)(.82,0.5)(.72,0.75)(.5,1.0)(.28,1.35)(.2,1.8)(.26,2.2)(.3,2.6)(.26,3.0)(.1,3.5)(0,4.2)};
\addplot[dG] coordinates {(0,-1.3)(.10,-0.8)(.35,-0.45)(.67,-0.2)(.97,0.05)(1.1,0.3)(.97,0.55)(.67,0.8)(.35,1.05)(.12,1.4)(.05,2.2)(0,3.2)};
\addplot[dE] coordinates {(0,-1.9)(.09,-1.4)(.33,-1.05)(.62,-0.8)(.90,-0.55)(1.02,-0.3)(.90,-0.05)(.62,0.2)(.33,0.45)(.09,0.8)(0,1.3)};
\addplot[dL] coordinates {(0,-0.92)(.09,-0.32)(.33,0.1)(.62,0.4)(.90,0.7)(1.02,1.0)(.90,1.3)(.62,1.6)(.33,1.9)(.14,2.4)(.05,3.2)(0,4.0)};
\end{axis}
\begin{axis}[main,at={(463pt,181.5pt)}]
\bands{\TrL}\red{52}{1444}
\node[lab] at (rel axis cs:0.049,0.08) {Traj\_12};
\end{axis}\redline
\begin{axis}[side,at={(601.5pt,181.5pt)}]
\addplot[dK] coordinates {(0,-2.4)(.1,-1.6)(.3,-1.1)(.35,-0.8)(.3,-0.5)(.15,0.0)(.15,0.6)(.38,1.2)(.62,1.6)(.75,2.0)(.62,2.4)(.3,2.8)(.08,3.3)(0,3.8)};
\addplot[dG] coordinates {(0,-2.42)(.08,-1.82)(.29,-1.4)(.56,-1.1)(.81,-0.8)(.92,-0.5)(.81,-0.2)(.56,0.1)(.29,0.4)(.08,0.82)(0,1.42)};
\addplot[dE] coordinates {(0,-1.8)(.12,-1.0)(.2,-0.5)(.15,0.0)(.3,0.6)(.55,1.0)(.8,1.3)(.9,1.6)(.8,1.9)(.52,2.2)(.27,2.5)(.08,2.9)(0,3.5)};
\addplot[dL] coordinates {(0,-1.04)(.08,-0.34)(.29,0.15)(.56,0.5)(.81,0.85)(.92,1.2)(.81,1.55)(.56,1.9)(.29,2.25)(.08,2.74)(0,3.44)};
\end{axis}
% ---------- Row 5
\begin{axis}[main,col1,at={(40pt,32.5pt)}]
\bands{\TrM}\red{0}{1530}
\node[labr] at (rel axis cs:0.056,0.877) {Traj\_13};
\end{axis}\redline
\begin{axis}[side,at={(178.5pt,32.5pt)}]
\addplot[dK] coordinates {(0,-3)(.03,-2.4)(.02,-1.2)(.05,0.06)(.19,0.55)(.37,0.9)(.53,1.25)(.6,1.6)(.53,1.95)(.37,2.3)(.19,2.65)(.05,3.14)(0,3.84)};
\addplot[dG] coordinates {(0,-2.56)(.06,-1.76)(.23,-1.2)(.44,-0.8)(.63,-0.4)(.72,0)(.63,0.4)(.44,0.8)(.23,1.2)(.06,1.76)(0,2.56)};
\addplot[dE] coordinates {(0,-2.06)(.06,-1.26)(.21,-0.7)(.40,-0.3)(.57,0.1)(.65,0.5)(.57,0.9)(.40,1.3)(.21,1.7)(.06,2.26)(0,3.06)};
\addplot[dL] coordinates {(0,-1.34)(.07,-0.64)(.26,-0.15)(.49,0.2)(.70,0.55)(.8,0.9)(.70,1.25)(.49,1.6)(.26,1.95)(.07,2.44)(0,3.14)};
\end{axis}
\begin{axis}[main,at={(254pt,32.5pt)}]
\bands{\TrN}\red{0}{1519}
\node[lab] at (rel axis cs:0.037,0.095) {Traj\_14};
\end{axis}\redline
\begin{axis}[side,at={(393.5pt,32.5pt)}]
\addplot[dK] coordinates {(0,1.4)(.1,2.2)(.28,2.7)(.3,3.0)(.26,3.4)(.2,3.9)(.3,4.5)(.55,5.0)(.68,5.5)(.55,6.0)(.25,6.5)(.06,7.0)(0,7.6)};
\addplot[dG] coordinates {(0,0.62)(.06,1.52)(.22,2.15)(.43,2.6)(.62,3.05)(.7,3.5)(.62,3.95)(.43,4.4)(.22,4.85)(.06,5.48)(0,6.38)};
\addplot[dE] coordinates {(0,-0.04)(.09,0.66)(.32,1.15)(.61,1.5)(.88,1.85)(1,2.2)(.88,2.55)(.61,2.9)(.32,3.25)(.09,3.74)(0,4.44)};
\addplot[dL] coordinates {(0,0.68)(.11,1.28)(.38,1.7)(.73,2.0)(1.06,2.3)(1.2,2.6)(1.06,2.9)(.73,3.2)(.38,3.5)(.11,3.92)(0,4.52)};
\end{axis}
\begin{axis}[main,at={(462.5pt,32.5pt)}]
\bands{\TrO}\red{0}{1433}
\node[lab] at (rel axis cs:0.022,0.095) {Traj\_15};
\end{axis}\redline
\begin{axis}[side,at={(601.5pt,32.5pt)}]
\addplot[dK] coordinates {(0,1.38)(.07,1.98)(.25,2.4)(.47,2.7)(.68,3.0)(.77,3.3)(.68,3.6)(.47,3.9)(.25,4.2)(.07,4.62)(0,5.22)};
\addplot[dG] coordinates {(0,-1.26)(.08,-0.46)(.27,0.1)(.52,0.5)(.75,0.9)(.85,1.3)(.75,1.7)(.52,2.1)(.27,2.5)(.08,3.06)(0,3.86)};
\addplot[dE] coordinates {(0,-1.24)(.09,-0.54)(.30,-0.05)(.58,0.3)(.84,0.65)(.95,1.0)(.84,1.35)(.58,1.7)(.30,2.05)(.09,2.54)(0,3.24)};
\addplot[dL] coordinates {(0,0.88)(.09,1.48)(.32,1.9)(.61,2.2)(.88,2.5)(1,2.8)(.88,3.1)(.61,3.4)(.32,3.7)(.09,4.12)(0,4.72)};
\end{axis}
\path (0,0) rectangle (669.5pt,717.5pt);
\end{tikzpicture}
\end{document}
